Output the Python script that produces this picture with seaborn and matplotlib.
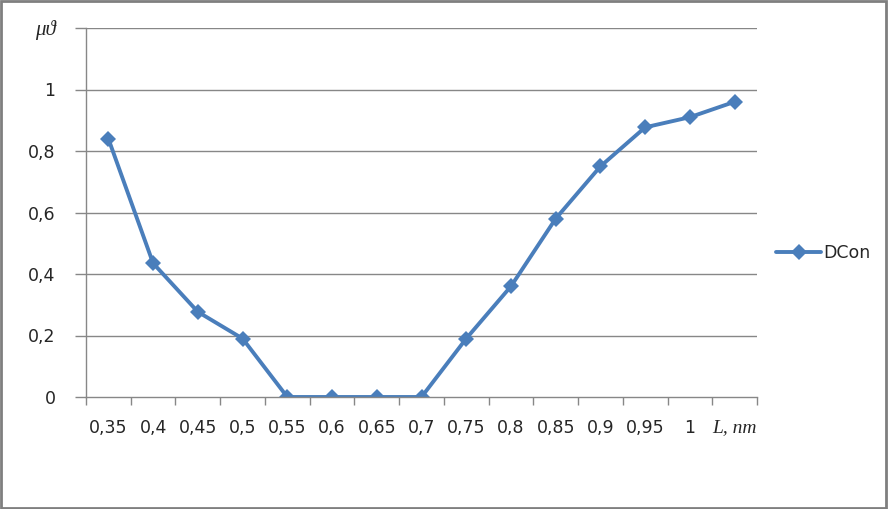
import matplotlib
matplotlib.use("Agg")
import matplotlib.pyplot as plt
import seaborn as sns
import pandas as pd
from matplotlib.patches import Rectangle

# values (last category carries the axis title, as in the original)
categories = ["0,35", "0,4", "0,45", "0,5", "0,55", "0,6", "0,65", "0,7",
              "0,75", "0,8", "0,85", "0,9", "0,95", "1", "L, nm"]
dcon = [0.84, 0.435, 0.277, 0.19, 0, 0, 0, 0,
        0.19, 0.36, 0.58, 0.75, 0.877, 0.91, 0.96]
y_ticks = [0, 0.2, 0.4, 0.6, 0.8, 1.0, 1.2]
y_labels = ["0", "0,2", "0,4", "0,6", "0,8", "1", "μϑ"]

df = pd.DataFrame({"L": categories, "value": dcon, "series": "DCon"})

sns.set_style("white")
plt.rcParams["font.family"] = ["DejaVu Sans"]

fig = plt.figure(figsize=(8.88, 5.09), dpi=100)
ax = fig.add_axes([86 / 888, 1 - 397 / 509, (757 - 86) / 888, (397 - 28) / 509])

blue = "#4a7ebb"
sns.lineplot(data=df, x="L", y="value", hue="series", palette=[blue],
             marker="D", markersize=8, linewidth=2.8, markeredgewidth=0,
             sort=False, ax=ax)

n = len(categories)
ax.set_xlim(-0.5, n - 0.5)
ax.set_ylim(0, 1.2)

grid_c = "#878787"
for y in y_ticks[1:]:
    ax.axhline(y, color=grid_c, linewidth=1, zorder=0)

# category boundary ticks, labels at centres
ax.set_xticks([i - 0.5 for i in range(n + 1)])
ax.set_xticklabels([])
ax.set_xticks(range(n), minor=True)
ax.set_xticklabels(categories, minor=True, fontsize=12.5)
ax.tick_params(axis="x", which="major", direction="out", length=6, color=grid_c, width=1, bottom=True)
ax.tick_params(axis="x", which="minor", length=0, pad=16)
last = ax.get_xticklabels(minor=True)[-1]
last.set_fontfamily("Liberation Serif")
last.set_fontstyle("italic")
last.set_fontsize(14)
last.set_x(n - 0.3)

ax.set_yticks(y_ticks)
ax.set_yticklabels(y_labels, fontsize=12.5)
ax.tick_params(axis="y", direction="out", length=8, color=grid_c, width=1, left=True, pad=14)
top = ax.get_yticklabels()[-1]
top.set_fontfamily("Liberation Serif")
top.set_fontstyle("italic")
top.set_fontsize(15)

ax.set_xlabel("")
ax.set_ylabel("")
for side in ["top", "right"]:
    ax.spines[side].set_visible(False)
for side in ["left", "bottom"]:
    ax.spines[side].set_color(grid_c)
    ax.spines[side].set_linewidth(1)

leg = ax.legend(loc="center left", bbox_to_anchor=(1.005, 0.39), frameon=False,
                fontsize=12.5, handlelength=2.6, handletextpad=0.1)
for h in leg.legend_handles:
    h.set_markersize(8)

fig.add_artist(Rectangle((0.001, 0.002), 0.997, 0.996, transform=fig.transFigure,
                         fill=False, edgecolor="#7f7f7f", linewidth=2))

fig.savefig("out.png", dpi=100)
